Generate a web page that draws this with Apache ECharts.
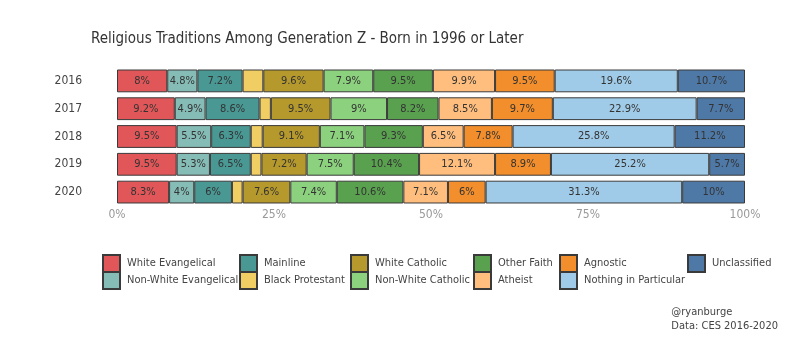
<!DOCTYPE html>
<html>
<head>
<meta charset="utf-8">
<script src="https://cdn.jsdelivr.net/npm/echarts@6/dist/echarts.min.js"></script>
<style>
  html, body { margin: 0; padding: 0; background: #fff; }
  #chart { width: 800px; height: 346px; }
</style>
</head>
<body>
<div id="chart"></div>
<script>
const years = ['2016', '2017', '2018', '2019', '2020']

const traditions = [
  'White Evangelical', 'Non-White Evangelical', 'Mainline', 'Black Protestant',
  'White Catholic', 'Non-White Catholic', 'Other Faith', 'Atheist',
  'Agnostic', 'Nothing in Particular', 'Unclassified',
]

const colors = [
  '#e15759', '#86bcb6', '#499894', '#f1ce63', '#b6992d', '#8cd17d',
  '#59a14f', '#ffbe7d', '#f28e2b', '#a0cbe8', '#4e79a7',
]

// one array per tradition, values by year 2016..2020
const whiteEvangelical = [8, 9.2, 9.5, 9.5, 8.3]
const nonWhiteEvangelical = [4.8, 4.9, 5.5, 5.3, 4]
const mainline = [7.2, 8.6, 6.3, 6.5, 6]
const blackProtestant = [3.3, 1.8, 1.9, 1.7, 1.7]
const whiteCatholic = [9.6, 9.5, 9.1, 7.2, 7.6]
const nonWhiteCatholic = [7.9, 9, 7.1, 7.5, 7.4]
const otherFaith = [9.5, 8.2, 9.3, 10.4, 10.6]
const atheist = [9.9, 8.5, 6.5, 12.1, 7.1]
const agnostic = [9.5, 9.7, 7.8, 8.9, 6]
const nothingInParticular = [19.6, 22.9, 25.8, 25.2, 31.3]
const unclassified = [10.7, 7.7, 11.2, 5.7, 10]

const values = [
  whiteEvangelical, nonWhiteEvangelical, mainline, blackProtestant,
  whiteCatholic, nonWhiteCatholic, otherFaith, atheist,
  agnostic, nothingInParticular, unclassified,
]

const xTicks = ['0%', '25%', '50%', '75%', '100%']

const FONT = '"DejaVu Sans Condensed", "Liberation Sans Narrow", "Roboto", sans-serif'

const chart = echarts.init(document.getElementById('chart'))

const series = traditions.map((name, i) => ({
  name,
  type: 'bar',
  stack: 'total',
  barWidth: '82%',
  itemStyle: { color: colors[i], borderColor: '#3a3a3a', borderWidth: 1 },
  label: {
    show: true,
    position: 'inside',
    color: '#333',
    fontSize: 11,
    fontFamily: FONT,
    formatter: (p) => (p.value >= 3.5 ? `${p.value}%` : ''),
  },
  data: values[i],
}))

// legend laid out in columns of two, like the original
const legendLefts = [102, 239, 350, 473, 559, 687]
const legends = legendLefts.map((left, c) => ({
  orient: 'vertical',
  left,
  top: 254,
  padding: 0,
  itemWidth: 17,
  itemHeight: 17,
  itemGap: -2,
  icon: 'rect',
  selectedMode: false,
  data: traditions.slice(c * 2, c * 2 + 2),
  textStyle: { color: '#444', fontSize: 11, fontFamily: FONT, padding: [0, 0, 0, 2] },
}))

chart.setOption({
  animation: false,
  backgroundColor: '#fff',
  title: {
    text: 'Religious Traditions Among Generation Z - Born in 1996 or Later',
    left: 86,
    top: 27,
    textStyle: { color: '#333', fontSize: 15, fontWeight: 'normal', fontFamily: FONT },
  },
  graphic: [
    {
      type: 'text',
      right: 22,
      top: 305,
      style: {
        text: '@ryanburge\nData: CES 2016-2020',
        align: 'right',
        fill: '#444',
        fontSize: 11,
        lineHeight: 14,
        fontFamily: FONT,
      },
    },
  ],
  legend: legends,
  grid: { left: 117, right: 55, top: 67, bottom: 140 },
  xAxis: {
    type: 'value',
    min: 0,
    max: 100,
    interval: 25,
    axisLabel: {
      color: '#999',
      fontSize: 12,
      fontFamily: FONT,
      margin: 3,
      formatter: (v) => xTicks[v / 25],
    },
    splitLine: { show: false },
    axisLine: { show: false },
    axisTick: { show: false },
  },
  yAxis: {
    type: 'category',
    data: years,
    inverse: true,
    axisLabel: { color: '#444', fontSize: 12, fontFamily: FONT, margin: 35 },
    axisLine: { show: false },
    axisTick: { show: false },
  },
  series,
})
</script>
</body>
</html>
